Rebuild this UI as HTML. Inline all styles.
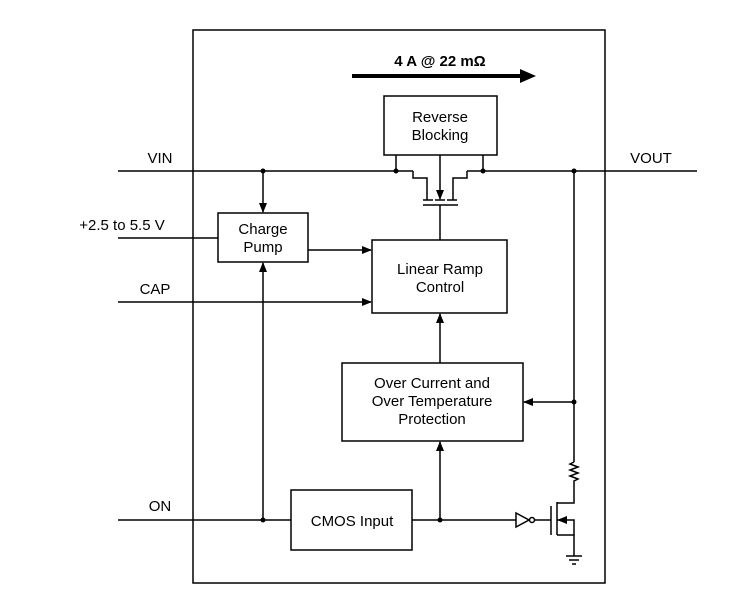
<!DOCTYPE html>
<html><head><style>body{margin:0;background:#fff}svg{display:block}text{font-family:"Liberation Sans",sans-serif;font-size:15px;fill:#000}</style></head><body>
<svg width="746" height="616" viewBox="0 0 746 616" xmlns="http://www.w3.org/2000/svg">
<defs><marker id="a" markerWidth="10" markerHeight="8" refX="9" refY="4" orient="auto" markerUnits="userSpaceOnUse"><path d="M0,0 L10,4 L0,8z" fill="#000"/></marker></defs>
<g stroke="#000" stroke-width="1.5" fill="none">
<rect x="193" y="30" width="412" height="553"/>
<rect x="384" y="96" width="113" height="59"/>
<rect x="218" y="213" width="90" height="49"/>
<rect x="372" y="240" width="135" height="73"/>
<rect x="342" y="363" width="181" height="78"/>
<rect x="291" y="490" width="121" height="60"/>
<line x1="118" y1="171" x2="413" y2="171"/>
<line x1="467" y1="171" x2="697" y2="171"/>
<polyline points="396,155 396,171"/><polyline points="483,155 483,171"/>
<polyline points="413,171 413,178 427,178 427,200"/>
<polyline points="467,171 467,178 453,178 453,200"/>
<line x1="423" y1="200" x2="433" y2="200"/><line x1="435" y1="200" x2="445" y2="200"/><line x1="447" y1="200" x2="457" y2="200"/>
<line x1="423" y1="205" x2="458" y2="205"/>
<line x1="440" y1="155" x2="440" y2="199" marker-end="url(#a)"/>
<line x1="440" y1="205" x2="440" y2="240"/>
<line x1="263" y1="171" x2="263" y2="212" marker-end="url(#a)"/>
<line x1="118" y1="238" x2="218" y2="238"/>
<line x1="308" y1="250" x2="371" y2="250" marker-end="url(#a)"/>
<line x1="118" y1="302" x2="371" y2="302" marker-end="url(#a)"/>
<line x1="440" y1="363" x2="440" y2="314" marker-end="url(#a)"/>
<line x1="574" y1="171" x2="574" y2="462"/>
<line x1="574" y1="402" x2="524" y2="402" marker-end="url(#a)"/>
<polyline points="574,462 570,464 578,467 570,470 578,473 570,476 578,479 574,481 574,503 557,503"/>
<line x1="118" y1="520" x2="291" y2="520"/>
<line x1="263" y1="520" x2="263" y2="263" marker-end="url(#a)"/>
<line x1="440" y1="520" x2="440" y2="442" marker-end="url(#a)"/>
<line x1="412" y1="520" x2="516" y2="520"/>
<polygon points="516,513 516,527 529,520"/>
<circle cx="532" cy="520" r="2.5"/>
<line x1="535" y1="520" x2="551" y2="520"/>
<line x1="551" y1="506" x2="551" y2="535"/>
<line x1="557" y1="502" x2="557" y2="535"/>
<polyline points="557,520 574,520 574,535 557,535"/>
<line x1="574" y1="535" x2="574" y2="556"/>
<line x1="566" y1="556" x2="582" y2="556"/><line x1="569" y1="560" x2="579" y2="560"/><line x1="572" y1="564" x2="576" y2="564"/>
</g>
<polygon points="557,520 567,516 567,524" fill="#000"/>
<g fill="#000"><circle cx="396" cy="171" r="2.5"/><circle cx="483" cy="171" r="2.5"/><circle cx="574" cy="171" r="2.5"/><circle cx="263" cy="171" r="2.5"/><circle cx="574" cy="402" r="2.5"/><circle cx="263" cy="520" r="2.5"/><circle cx="440" cy="520" r="2.5"/></g>
<line x1="352" y1="76" x2="522" y2="76" stroke="#000" stroke-width="4"/>
<polygon points="520,69 536,76 520,83" fill="#000"/>
<text x="440" y="66" text-anchor="middle" font-weight="bold">4 A @ 22 mΩ</text>
<text x="440" y="122" text-anchor="middle">Reverse</text><text x="440" y="140" text-anchor="middle">Blocking</text>
<text x="263" y="234" text-anchor="middle">Charge</text><text x="263" y="252" text-anchor="middle">Pump</text>
<text x="440" y="274" text-anchor="middle">Linear Ramp</text><text x="440" y="292" text-anchor="middle">Control</text>
<text x="432" y="388" text-anchor="middle">Over Current and</text><text x="432" y="406" text-anchor="middle">Over Temperature</text><text x="432" y="424" text-anchor="middle">Protection</text>
<text x="352" y="526" text-anchor="middle">CMOS Input</text>
<text x="160" y="163" text-anchor="middle">VIN</text>
<text x="651" y="163" text-anchor="middle">VOUT</text>
<text x="122" y="230" text-anchor="middle">+2.5 to 5.5 V</text>
<text x="155" y="294" text-anchor="middle">CAP</text>
<text x="160" y="511" text-anchor="middle">ON</text>
</svg></body></html>
